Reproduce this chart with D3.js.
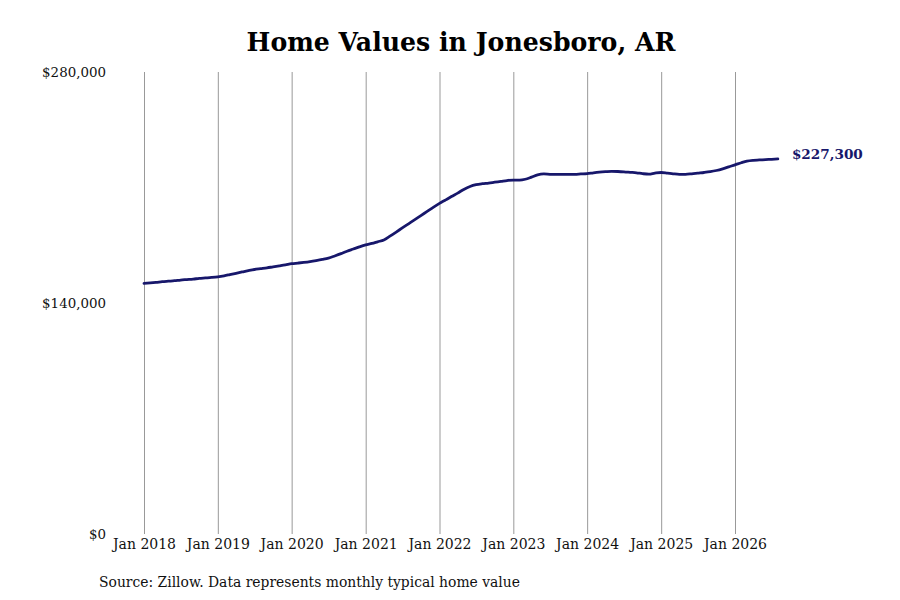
<!DOCTYPE html>
<html>
<head>
<meta charset="utf-8">
<script src="https://cdn.jsdelivr.net/npm/d3@7"></script>
<style>
  body { margin: 0; background: #fff; }
  text { font-family: "DejaVu Serif", serif; }
</style>
</head>
<body>
<script>
// monthly typical home value, Jan 2018 .. Aug 2026
var startMonth = "2018-01";
var values = [
  151900, 152200, 152500, 152900, 153200, 153500, 153900, 154200, 154500, 154900, 155200, 155500,
  155900, 156500, 157200, 158000, 158800, 159600, 160300, 160800, 161300, 161900, 162500, 163100,
  163800, 164200, 164600, 165100, 165700, 166400, 167200, 168500, 169900, 171400, 172700, 174000,
  175200, 176100, 177100, 178200, 180500, 183000, 185500, 188000, 190500, 193000, 195500, 198000,
  200400, 202500, 204500, 206600, 208800, 210600, 211700, 212300, 212700, 213200, 213700, 214200,
  214500, 214500, 215000, 216300, 217700, 218200, 218000, 217900, 217900, 218000, 218000, 218200,
  218400, 218900, 219300, 219600, 219800, 219700, 219500, 219200, 218900, 218400, 218100, 218700,
  219100, 218700, 218300, 218000, 218000, 218300, 218700, 219100, 219600, 220300, 221300, 222500,
  223700, 225000, 226000, 226500, 226700, 226900, 227100, 227300
];
var yTicks = [0, 140000, 280000];
var xTickYears = [2018, 2019, 2020, 2021, 2022, 2023, 2024, 2025, 2026];
var lastLabel = "$227,300";

var svg = d3.select("body").append("svg")
  .attr("width", 900)
  .attr("height", 600);

var parse = d3.timeParse("%Y-%m");
var t0 = parse(startMonth);
var data = values.map(function(v, i){ return { date: d3.timeMonth.offset(t0, i), value: v }; });

var x = d3.scaleTime()
  .domain([new Date(2018, 0, 1), new Date(2026, 0, 1)])
  .range([144, 735]);
var y = d3.scaleLinear()
  .domain([0, 280000])
  .range([534, 72]);

// title
svg.append("text")
  .attr("x", 461)
  .attr("y", 51)
  .attr("text-anchor", "middle")
  .style("font-size", "25.2px")
  .style("font-weight", "bold")
  .text("Home Values in Jonesboro, AR");

// x axis with vertical gridlines
var xAxis = svg.append("g")
  .attr("transform", "translate(0,534)")
  .call(d3.axisBottom(x)
    .tickValues(xTickYears.map(function(yr){ return new Date(yr, 0, 1); }))
    .tickFormat(d3.timeFormat("Jan %Y"))
    .tickSize(-462)
    .tickPadding(5));
xAxis.select(".domain").remove();
xAxis.selectAll(".tick line").attr("stroke", "#999").attr("stroke-width", 1);
xAxis.selectAll(".tick text")
  .style("font-size", "14px")
  .style("font-family", "DejaVu Serif")
  .attr("fill", "#111");

// y axis labels only
var yAxis = svg.append("g")
  .attr("transform", "translate(106,0)")
  .call(d3.axisLeft(y)
    .tickValues(yTicks)
    .tickFormat(function(d){ return "$" + d3.format(",")(d); })
    .tickSize(0)
    .tickPadding(0));
yAxis.select(".domain").remove();
yAxis.selectAll(".tick text")
  .style("font-size", "13.4px")
  .style("font-family", "DejaVu Serif")
  .attr("fill", "#111");

// line
var line = d3.line()
  .x(function(d){ return x(d.date); })
  .y(function(d){ return y(d.value); })
  .curve(d3.curveMonotoneX);

svg.append("path")
  .datum(data)
  .attr("fill", "none")
  .attr("stroke", "#17176b")
  .attr("stroke-width", 2.8)
  .attr("stroke-linejoin", "round")
  .attr("stroke-linecap", "round")
  .attr("d", line);

var last = data[data.length - 1];
svg.append("text")
  .attr("x", x(last.date) + 14)
  .attr("y", y(last.value) - 5)
  .attr("dy", "0.35em")
  .style("font-size", "13.6px")
  .style("font-weight", "bold")
  .attr("fill", "#17176b")
  .text(lastLabel);

// source
svg.append("text")
  .attr("x", 99)
  .attr("y", 587)
  .style("font-size", "13.9px")
  .attr("fill", "#111")
  .text("Source: Zillow. Data represents monthly typical home value");
</script>
</body>
</html>
